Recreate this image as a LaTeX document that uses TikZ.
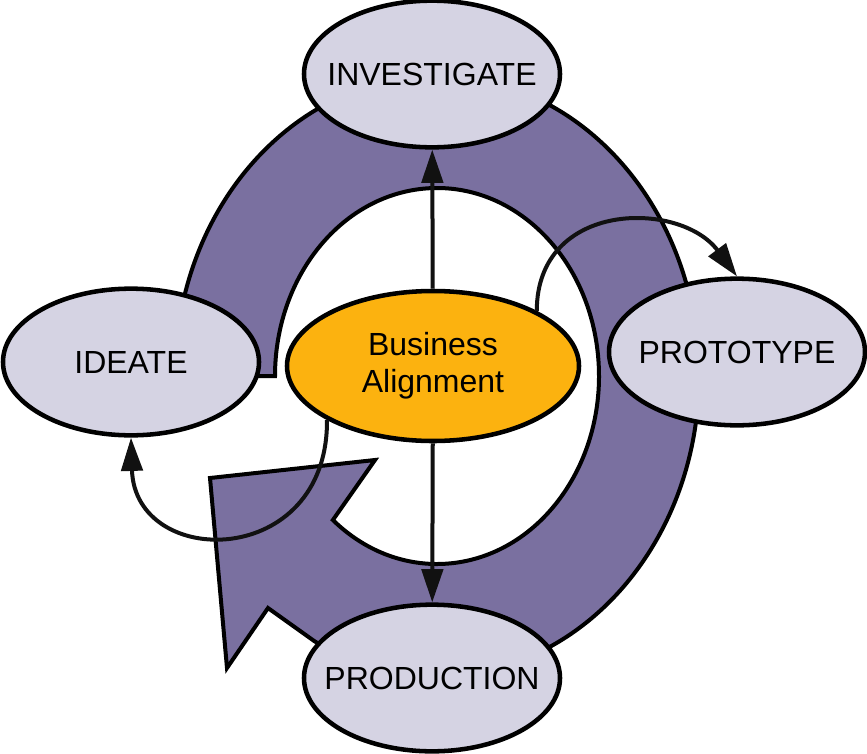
\documentclass[tikz,border=0pt]{standalone}
\usepackage{fontspec}
\setmainfont{Liberation Sans}
\usetikzlibrary{arrows.meta,shapes.geometric}

\definecolor{phaseFill}{RGB}{213,211,227}
\definecolor{ringFill}{RGB}{122,112,160}
\definecolor{coreFill}{RGB}{252,178,15}
\definecolor{linkColor}{RGB}{17,17,17}

\tikzset{every picture/.style={line width=0.75pt}}
\tikzset{
	phase/.style={ellipse, draw=black, line width=3.4pt, fill=phaseFill, minimum width=192pt, minimum height=110pt, inner sep=0pt},
	core/.style={phase, fill=coreFill, minimum width=219pt, minimum height=112.5pt},
	phasetext/.style={font=\fontsize{24}{28}\selectfont, align=center, inner sep=0pt},
	ring/.style={draw=black, line width=3pt, fill=ringFill, line join=miter},
	link/.style={draw=linkColor, line width=3pt, -{Triangle[length=25pt,width=16pt]}}
}

\begin{document}
\begin{tikzpicture}[x=0.75pt,y=0.75pt,yscale=-1,xscale=1]
	\useasboundingbox (0,0) rectangle (867,753);
	
	%Shape: Circular Arrow
	\draw[ring] (437,376) ++(180:262 and 300) arc[start angle=180, end angle=478, x radius=262, y radius=300] -- (268,608) -- (227,668) -- (210,478) -- (375,460) -- (332.87,520.02) arc[start angle=130, end angle=-180, x radius=162, y radius=188] -- cycle ;
	
	%Shape: Ellipse
	\node[phase] (inv) at (432,74) {};
	%Shape: Ellipse
	\node[phase] (ide) at (131,362) {};
	%Shape: Ellipse
	\node[phase] (proto) at (737,352) {};
	%Shape: Ellipse
	\node[phase] (prod) at (432,678) {};
	%Shape: Ellipse
	\node[core] (ba) at (433,366) {};
	
	%Straight Lines
	\draw[link] (ba) -- (inv) ;
	%Straight Lines
	\draw[link] (ba) -- (prod) ;
	%Curve Lines
	\draw[link] (ba.28) .. controls (537,200) and (680,200) .. (proto.north) ;
	%Curve Lines
	\draw[link] (ba.207) .. controls (328,570) and (135,570) .. (ide.south) ;
	
	% Text Node
	\node[phasetext] (invText) at (inv) {INVESTIGATE};
	% Text Node
	\node[phasetext] (ideText) at (ide) {IDEATE};
	% Text Node
	\node[phasetext] (protoText) at (proto) {PROTOTYPE};
	% Text Node
	\node[phasetext] (prodText) at (prod) {PRODUCTION};
	% Text Node
	\node[phasetext] (baText) at (ba) {Business\\Alignment};
	
\end{tikzpicture}
\end{document}
